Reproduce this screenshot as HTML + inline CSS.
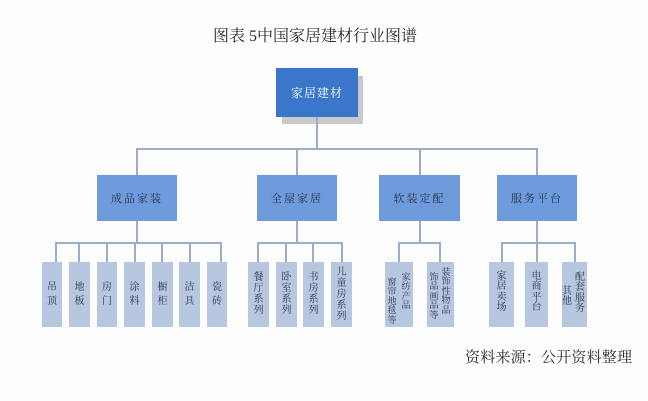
<!DOCTYPE html>
<html><head><meta charset="utf-8"><style>
html,body{margin:0;padding:0;}
body{width:648px;height:401px;background:#fdfdfd;position:relative;overflow:hidden;font-family:"Liberation Serif","Noto Serif CJK SC",serif;}
.a{position:absolute;}
.l{position:absolute;background:#9badca;}
.top{background:#3a77cb;color:#fff;font-size:12px;display:flex;align-items:center;justify-content:center;letter-spacing:1px;}
.sh{background:#c9c9cb;}
.l2{background:#6e9bdb;color:#26344f;font-size:11px;display:flex;align-items:center;justify-content:center;letter-spacing:2px;}
.l3{background:#b6c7df;}
.c{position:absolute;width:14px;text-align:center;color:#2a3550;font-size:10px;}
.g1{line-height:14px;}
.g2{line-height:11px;}
.g3{font-size:9px;line-height:9.5px;}
.g4{line-height:10.5px;}
</style></head><body>
<div class="a" style="left:213px;top:28px;font-size:16px;line-height:18px;color:#2b2b2b;white-space:nowrap;">图表 5中国家居建材行业图谱</div>

<div class="a sh" style="left:282px;top:76px;width:81px;height:48px;"></div>
<div class="a top" style="left:276px;top:68px;width:82px;height:49px;">家居建材</div>

<div class="l" style="left:316px;top:117px;width:2px;height:33px;"></div>
<div class="l" style="left:136px;top:148px;width:402px;height:2px;"></div>
<div class="l" style="left:136px;top:148px;width:2px;height:27px;"></div>
<div class="l" style="left:296px;top:148px;width:2px;height:27px;"></div>
<div class="l" style="left:419px;top:148px;width:2px;height:27px;"></div>
<div class="l" style="left:536px;top:148px;width:2px;height:27px;"></div>

<div class="a l2" style="left:97px;top:175px;width:80px;height:46px;">成品家装</div>
<div class="a l2" style="left:257px;top:175px;width:80px;height:46px;">全屋家居</div>
<div class="a l2" style="left:379px;top:175px;width:81px;height:46px;">软装定配</div>
<div class="a l2" style="left:497px;top:175px;width:80px;height:46px;">服务平台</div>

<div class="l" style="left:136px;top:221px;width:2px;height:22px;"></div>
<div class="l" style="left:296px;top:221px;width:2px;height:22px;"></div>
<div class="l" style="left:419px;top:221px;width:2px;height:22px;"></div>
<div class="l" style="left:536px;top:221px;width:2px;height:22px;"></div>

<!-- group1 -->
<div class="l" style="left:55px;top:242px;width:167px;height:2px;"></div>
<div class="l" style="left:55px;top:242px;width:2px;height:20px;"></div>
<div class="l" style="left:78px;top:242px;width:2px;height:20px;"></div>
<div class="l" style="left:106px;top:242px;width:2px;height:20px;"></div>
<div class="l" style="left:134px;top:242px;width:2px;height:20px;"></div>
<div class="l" style="left:161px;top:242px;width:2px;height:20px;"></div>
<div class="l" style="left:189px;top:242px;width:2px;height:20px;"></div>
<div class="l" style="left:220px;top:242px;width:2px;height:20px;"></div>

<div class="a l3" style="left:42px;top:262px;width:20px;height:65px;"></div>
<div class="a l3" style="left:69px;top:262px;width:21px;height:65px;"></div>
<div class="a l3" style="left:97px;top:262px;width:20px;height:65px;"></div>
<div class="a l3" style="left:124px;top:262px;width:21px;height:65px;"></div>
<div class="a l3" style="left:152px;top:262px;width:21px;height:65px;"></div>
<div class="a l3" style="left:179px;top:262px;width:21px;height:65px;"></div>
<div class="a l3" style="left:207px;top:262px;width:20px;height:65px;"></div>
<div class="c g1" style="left:45px;top:281px;">吊<br>顶</div>
<div class="c g1" style="left:72.5px;top:281px;">地<br>板</div>
<div class="c g1" style="left:100px;top:281px;">房<br>门</div>
<div class="c g1" style="left:127.5px;top:281px;">涂<br>料</div>
<div class="c g1" style="left:155.5px;top:281px;">橱<br>柜</div>
<div class="c g1" style="left:182.5px;top:281px;">洁<br>具</div>
<div class="c g1" style="left:210px;top:281px;">瓷<br>砖</div>

<!-- group2 -->
<div class="l" style="left:257px;top:242px;width:86px;height:2px;"></div>
<div class="l" style="left:257px;top:242px;width:2px;height:20px;"></div>
<div class="l" style="left:285px;top:242px;width:2px;height:20px;"></div>
<div class="l" style="left:312px;top:242px;width:2px;height:20px;"></div>
<div class="l" style="left:341px;top:242px;width:2px;height:20px;"></div>
<div class="a l3" style="left:248px;top:262px;width:21px;height:65px;"></div>
<div class="a l3" style="left:276px;top:262px;width:21px;height:65px;"></div>
<div class="a l3" style="left:303px;top:262px;width:21px;height:65px;"></div>
<div class="a l3" style="left:331px;top:262px;width:21px;height:65px;"></div>
<div class="c g2" style="left:251.5px;top:271.5px;">餐<br>厅<br>系<br>列</div>
<div class="c g2" style="left:279.5px;top:271.5px;">卧<br>室<br>系<br>列</div>
<div class="c g2" style="left:306.5px;top:271.5px;">书<br>房<br>系<br>列</div>
<div class="c g2" style="left:334.5px;top:266.5px;">儿<br>童<br>房<br>系<br>列</div>

<!-- group3 -->
<div class="l" style="left:398px;top:242px;width:43px;height:2px;"></div>
<div class="l" style="left:398px;top:242px;width:2px;height:20px;"></div>
<div class="l" style="left:439px;top:242px;width:2px;height:20px;"></div>
<div class="a l3" style="left:385px;top:262px;width:28px;height:65px;"></div>
<div class="a l3" style="left:427px;top:262px;width:27px;height:65px;"></div>
<div class="c g3" style="left:399px;top:272.5px;">家<br>纺<br>产<br>品</div>
<div class="c g3" style="left:385px;top:277.5px;">窗<br>帘<br>地<br>毯<br>等</div>
<div class="c g3" style="left:439px;top:267.5px;">装<br>饰<br>性<br>物<br>品</div>
<div class="c g3" style="left:427px;top:272.5px;">饰<br>品<br>画<br>品<br>等</div>

<!-- group4 -->
<div class="l" style="left:501px;top:242px;width:75px;height:2px;"></div>
<div class="l" style="left:501px;top:242px;width:2px;height:20px;"></div>
<div class="l" style="left:536px;top:242px;width:2px;height:20px;"></div>
<div class="l" style="left:574px;top:242px;width:2px;height:20px;"></div>
<div class="a l3" style="left:489px;top:262px;width:25px;height:65px;"></div>
<div class="a l3" style="left:525px;top:262px;width:23px;height:65px;"></div>
<div class="a l3" style="left:562px;top:262px;width:25px;height:65px;"></div>
<div class="c g4" style="left:494.5px;top:271.5px;">家<br>居<br>卖<br>场</div>
<div class="c g4" style="left:529.5px;top:271.5px;">电<br>商<br>平<br>台</div>
<div class="c g4" style="left:573px;top:272.5px;">配<br>套<br>服<br>务</div>
<div class="c g4" style="left:560px;top:286.5px;">其<br>他</div>

<div class="a" style="left:465px;top:350px;font-size:15px;line-height:16px;color:#2b2b2b;white-space:nowrap;letter-spacing:0.2px;">资料来源：公开资料整理</div>
</body></html>
